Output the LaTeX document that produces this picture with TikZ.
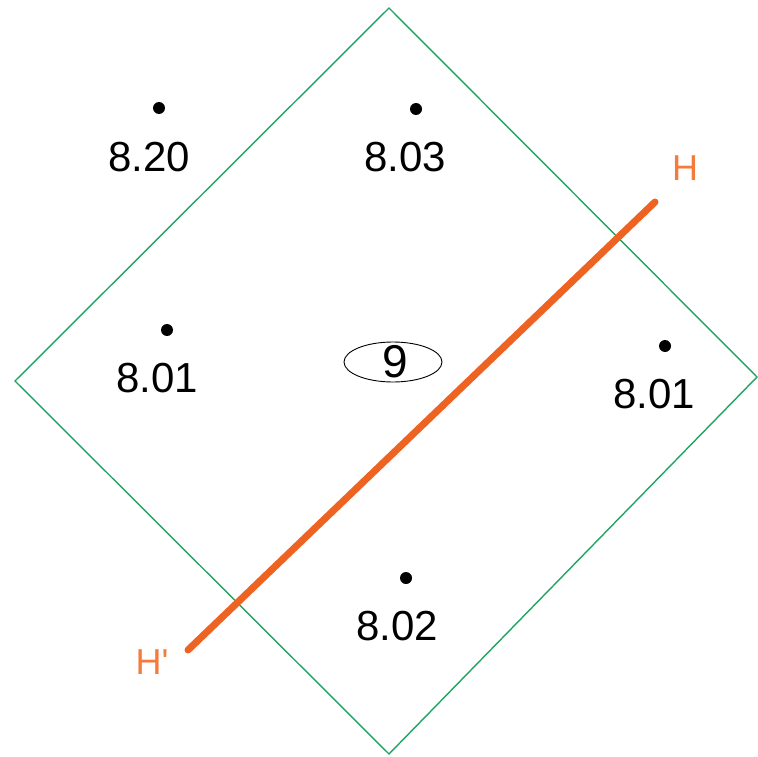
\documentclass[tikz,border=0pt]{standalone}
\usepackage{fontspec}
\setmainfont{Liberation Sans}
\usetikzlibrary{shapes.geometric}
\definecolor{dgreen}{HTML}{1FA463}
\definecolor{hline}{HTML}{EE6322}
\definecolor{hlab}{HTML}{F47B3C}
\begin{document}
\begin{tikzpicture}[x=1pt,y=-1pt,
  pt/.style={circle,fill=black,inner sep=0pt,minimum size=12pt},
  val/.style={inner sep=0pt,font=\fontsize{42}{44}\selectfont},
  hl/.style={inner sep=0pt,text=hlab,font=\fontsize{36}{38}\selectfont}]
\useasboundingbox (0,0) rectangle (758,757);
\coordinate (T) at (389,8);
\coordinate (R) at (757,377);
\coordinate (B) at (389,754);
\coordinate (L) at (15,381);
\draw[dgreen,line width=1.4pt] (T) -- (R) -- (B) -- (L) -- cycle;
\node[pt] (p1) at (159,108) {};
\node[val] (l1) at (149,157) {8.20};
\node[pt] (p2) at (416,109) {};
\node[val] (l2) at (405,157) {8.03};
\node[pt] (p3) at (167,330) {};
\node[val] (l3) at (157,378) {8.01};
\node[pt] (p4) at (665,346) {};
\node[val] (l4) at (654,394) {8.01};
\node[pt] (p5) at (406,578) {};
\node[val] (l5) at (397,626) {8.02};
\node[ellipse,draw,line width=0.9pt,minimum width=98pt,minimum height=40pt,inner sep=0pt] (e) at (393,362) {};
\node[val,font=\fontsize{46}{48}\selectfont] (nine) at (395,362) {9};
\coordinate (h1) at (655,202);
\coordinate (h2) at (188,650);
\draw[hline,line width=7pt,line cap=round] (h1) -- (h2);
\node[hl] (H) at (685,168) {H};
\node[hl] (Hp) at (152,662) {H\textquotesingle};
\end{tikzpicture}
\end{document}
